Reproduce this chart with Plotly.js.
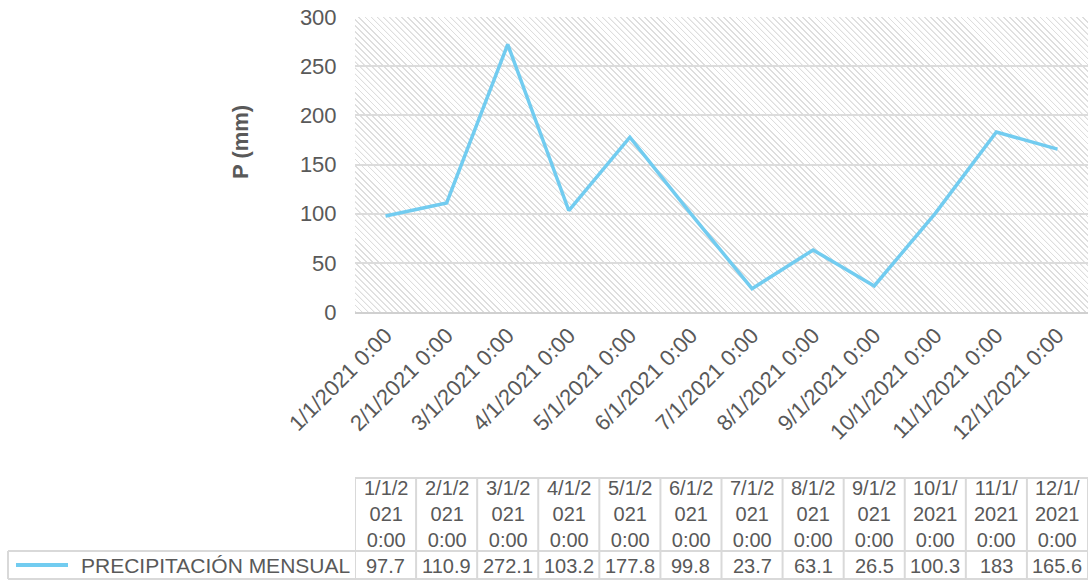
<!DOCTYPE html>
<html>
<head>
<meta charset="utf-8">
<script src="https://cdn.plot.ly/plotly-3.0.1.min.js"></script>
<style>
  html, body { margin: 0; padding: 0; background: #ffffff; }
  #wrap { position: relative; width: 1089px; height: 580px; overflow: hidden; }
  #hatch {
    position: absolute; left: 355px; top: 17px; width: 733px; height: 295px;
    background: repeating-linear-gradient(45deg, #dedede 0px, #dedede 1px, #ffffff 1.4px, #ffffff 4.3px);
    z-index: 0;
  }
  #chart { position: absolute; left: 0; top: 0; width: 1089px; height: 580px; z-index: 1; }
</style>
</head>
<body>
<div id="wrap">
  <div id="hatch"></div>
  <div id="chart"></div>
</div>
<script>
// ---- data ----
const categories = ["1/1/2021 0:00", "2/1/2021 0:00", "3/1/2021 0:00", "4/1/2021 0:00",
                    "5/1/2021 0:00", "6/1/2021 0:00", "7/1/2021 0:00", "8/1/2021 0:00",
                    "9/1/2021 0:00", "10/1/2021 0:00", "11/1/2021 0:00", "12/1/2021 0:00"];
const precipitation = [97.7, 110.9, 272.1, 103.2, 177.8, 99.8, 23.7, 63.1, 26.5, 100.3, 183, 165.6];
const seriesName = "PRECIPITACIÓN MENSUAL";
const yTitle = "P (mm)";

// ---- layout helpers (plot box in pixels) ----
const L = 355, T = 17, W = 733, H = 295;
const py = p => (T + H - p) / H;      // pixel y -> paper y
const px = p => (p - L) / W;          // pixel x -> paper x
const lineColor = "#72CCF0";
const textColor = "#595959";
const tableLine = "#d9d9d9";
const fontFam = "Liberation Sans, Arial, sans-serif";
const tableFont = 20;

function wrapHeader(label) {
  const parts = label.split(" ");
  return parts[0].slice(0, 5) + "<br>" + parts[0].slice(5) + "<br>" + parts[1];
}

const annotations = [];
const shapes = [];
const n = categories.length;
const tTop = 478, tMid = 551, tBot = 579;

categories.forEach((c, i) => {
  annotations.push({
    xref: "x", yref: "paper", x: i, y: py(514), text: wrapHeader(c),
    showarrow: false, xanchor: "center", yanchor: "middle", align: "center",
    font: { family: fontFam, size: tableFont, color: textColor }
  });
  annotations.push({
    xref: "x", yref: "paper", x: i, y: py(565.5), text: String(precipitation[i]),
    showarrow: false, xanchor: "center", yanchor: "middle",
    font: { family: fontFam, size: tableFont, color: textColor }
  });
});
annotations.push({
  xref: "paper", yref: "paper", x: px(352), y: py(565.5), text: seriesName,
  showarrow: false, xanchor: "right", yanchor: "middle",
  font: { family: fontFam, size: 21, color: textColor }
});
// y-axis title
annotations.push({
  xref: "paper", yref: "paper", x: px(240), y: py(142), text: "<b>" + yTitle + "</b>",
  textangle: -90, showarrow: false, xanchor: "center", yanchor: "middle",
  font: { family: fontFam, size: 22, color: textColor }
});

// table grid lines
for (let i = 0; i <= n; i++) {
  shapes.push({ type: "line", xref: "x", yref: "paper", x0: i - 0.5, x1: i - 0.5,
    y0: py(tTop), y1: py(tBot), line: { color: tableLine, width: 2 } });
}
shapes.push({ type: "line", xref: "x", yref: "paper", x0: -0.5, x1: n - 0.5,
  y0: py(tTop), y1: py(tTop), line: { color: tableLine, width: 2 } });
shapes.push({ type: "line", xref: "paper", yref: "paper", x0: px(8), x1: px(1088),
  y0: py(tMid), y1: py(tMid), line: { color: tableLine, width: 2 } });
shapes.push({ type: "line", xref: "paper", yref: "paper", x0: px(8), x1: px(1088),
  y0: py(tBot), y1: py(tBot), line: { color: tableLine, width: 2 } });
shapes.push({ type: "line", xref: "paper", yref: "paper", x0: px(8), x1: px(8),
  y0: py(tMid), y1: py(tBot), line: { color: tableLine, width: 2 } });
// legend key
shapes.push({ type: "line", xref: "paper", yref: "paper", x0: px(16), x1: px(68),
  y0: py(565), y1: py(565), line: { color: lineColor, width: 4 } });

const trace = {
  type: "scatter", mode: "lines", name: seriesName,
  x: categories, y: precipitation,
  line: { color: lineColor, width: 3.5 },
  hoverinfo: "x+y"
};

const layout = {
  width: 1089, height: 580,
  margin: { l: L, r: 1089 - L - W, t: T, b: 580 - T - H, pad: 0 },
  paper_bgcolor: "rgba(0,0,0,0)",
  plot_bgcolor: "rgba(0,0,0,0)",
  showlegend: false,
  font: { family: fontFam, color: textColor },
  xaxis: {
    type: "category", range: [-0.5, n - 0.5],
    showgrid: false, zeroline: false,
    showline: true, linecolor: "#d0d0d0", linewidth: 2,
    ticks: "", tickangle: -45,
    tickfont: { family: fontFam, size: 22, color: textColor },
    automargin: false
  },
  yaxis: {
    range: [0, 300], dtick: 50, tick0: 0,
    showgrid: true, gridcolor: "#dcdcdc", gridwidth: 2,
    zeroline: false, showline: false,
    ticks: "outside", ticklen: 13, tickcolor: "rgba(0,0,0,0)",
    tickfont: { family: fontFam, size: 22, color: textColor },
    automargin: false
  },
  annotations: annotations,
  shapes: shapes
};

Plotly.newPlot("chart", [trace], layout, { displayModeBar: false, staticPlot: true });
</script>
</body>
</html>
